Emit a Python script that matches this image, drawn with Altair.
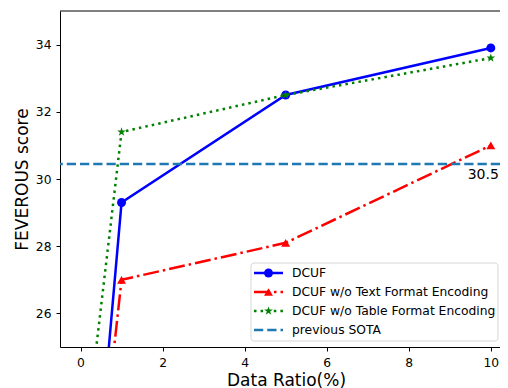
import altair as alt
import pandas as pd

# ---- data ----
ratios = [0, 1, 5, 10]
dcuf = [15.4, 29.3, 32.5, 33.9]
wo_text = [15.9, 27.0, 28.1, 31.0]
wo_table = [21.0, 31.4, 32.5, 33.6]
sota = 30.45
sota_label = "30.5"
series_names = ["DCUF", "DCUF w/o Text Format Encoding", "DCUF w/o Table Format Encoding"]
legend_labels = series_names + ["previous SOTA"]
x_ticks = [0, 2, 4, 6, 8, 10]
y_ticks = [26, 28, 30, 32, 34]

FONT = "DejaVu Sans"
W, H = 440, 336
STAR = ("M0,-1L0.2245,-0.309L0.9511,-0.309L0.3633,0.118L0.5878,0.809L0,0.382"
        "L-0.5878,0.809L-0.3633,0.118L-0.9511,-0.309L-0.2245,-0.309Z")

styles = [
    dict(color="#0000ff", dash=None, shape="circle", size=80),
    dict(color="#ff0000", dash=[16, 4, 2.5, 4], shape="triangle-up", size=80),
    dict(color="#008000", dash=[2.5, 4.1], shape=STAR, size=85),
]
sota_style = dict(color="#1f77b4", dash=[9.25, 4])

xs = alt.Scale(domain=[-0.5, 10.224], nice=False, zero=False)
ys = alt.Scale(domain=[25, 35], nice=False, zero=False)

common_axis = dict(grid=False, tickSize=4, labelPadding=5, domainColor="black", domainWidth=1,
                   tickColor="black", tickWidth=1, labelColor="black", titleColor="black",
                   labelFontSize=12.3, titleFontSize=17, labelFont=FONT, titleFont=FONT,
                   titleFontWeight="normal", labelFlush=False, labelOverlap=False)
x_axis = alt.Axis(title="Data Ratio(%)", values=x_ticks, format="d", titlePadding=4,
                  titleX=226, **common_axis)
y_axis = alt.Axis(title="FEVEROUS score", values=y_ticks, format="d", titlePadding=4,
                  **common_axis)

x_enc = alt.X("ratio:Q", scale=xs, axis=x_axis)
y_enc = alt.Y("score:Q", scale=ys, axis=y_axis)

layers = []
for vals, st in zip([dcuf, wo_text, wo_table], styles):
    df = pd.DataFrame({"ratio": ratios, "score": vals})
    lk = dict(color=st["color"], strokeWidth=2.5, clip=True)
    if st["dash"]:
        lk["strokeDash"] = st["dash"]
    layers.append(alt.Chart(df).mark_line(**lk).encode(x=x_enc, y=y_enc))
    layers.append(alt.Chart(df).mark_point(filled=True, shape=st["shape"], size=st["size"],
                                           color=st["color"], opacity=1, clip=True)
                  .encode(x=x_enc, y=y_enc))

sota_df = pd.DataFrame({"score": [sota], "ratio": [10], "label": [sota_label]})
layers.append(alt.Chart(sota_df).mark_rule(color=sota_style["color"], strokeWidth=2.5,
                                           strokeDash=sota_style["dash"])
              .encode(y=alt.Y("score:Q", scale=ys, axis=y_axis)))
layers.append(alt.Chart(sota_df).mark_text(font=FONT, fontSize=14, color="black", dy=11, dx=8,
                                           align="right", baseline="middle")
              .encode(x=x_enc, y=alt.Y("score:Q", scale=ys, axis=y_axis), text="label:N"))

# top frame line (right edge lies outside the picture)
one = pd.DataFrame({"a": [0]})
layers.append(alt.Chart(one).mark_rule(color="black", strokeWidth=1)
              .encode(y=alt.value(0)))

# ---- legend ----
layers.append(alt.Chart(one).mark_rect(fill="white", fillOpacity=0.8, stroke="#cccccc",
                                       strokeOpacity=0.8, strokeWidth=1, cornerRadius=3)
              .encode(x=alt.value(191), x2=alt.value(438), y=alt.value(252), y2=alt.value(330)))
leg_styles = styles + [dict(color=sota_style["color"], dash=sota_style["dash"], shape=None)]
for i, (lab, st) in enumerate(zip(legend_labels, leg_styles)):
    yc = 262 + 19 * i
    rk = dict(color=st["color"], strokeWidth=2.5)
    if st["dash"]:
        rk["strokeDash"] = st["dash"]
    layers.append(alt.Chart(one).mark_rule(**rk)
                  .encode(x=alt.value(194), x2=alt.value(223), y=alt.value(yc)))
    if st["shape"]:
        layers.append(alt.Chart(one).mark_point(filled=True, shape=st["shape"], size=st["size"],
                                                color=st["color"], opacity=1)
                      .encode(x=alt.value(208.5), y=alt.value(yc)))
    layers.append(alt.Chart(pd.DataFrame({"t": [lab]})).mark_text(
        font=FONT, fontSize=12.3, color="black", align="left", baseline="middle")
        .encode(x=alt.value(232), y=alt.value(yc), text="t:N"))

chart = alt.layer(*layers).properties(
    width=W, height=H,
    autosize=alt.AutoSizeParams(type="none"),
    padding={"left": 52, "top": 3, "right": 0, "bottom": 41},
).configure_view(stroke=None)

chart.save("out.html", embed_options={"renderer": "svg", "actions": False})
